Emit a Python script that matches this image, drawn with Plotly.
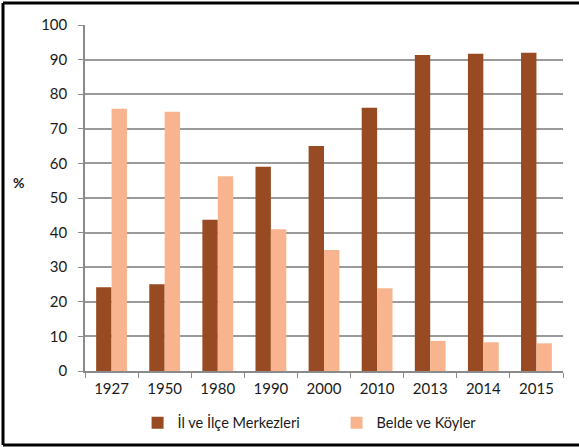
import plotly.graph_objects as go

# Share of population living in province/district centres vs. towns and villages (%)
years = ["1927", "1950", "1980", "1990", "2000", "2010", "2013", "2014", "2015"]
il_ilce = [24.2, 25.1, 43.7, 59.0, 65.0, 76.1, 91.3, 91.7, 92.0]
belde_koy = [75.8, 74.9, 56.3, 41.0, 35.0, 23.9, 8.7, 8.3, 8.0]

series_names = ["İl ve İlçe Merkezleri", "Belde ve Köyler"]
series_colors = ["#984A22", "#F8B48E"]
y_ticks = list(range(0, 101, 10))

FONT = "Lato, 'Open Sans', sans-serif"
TXT = "#1a1a1a"
AXIS = "#8a8a8a"

fig = go.Figure()
for name, vals, col in zip(series_names, [il_ilce, belde_koy], series_colors):
    fig.add_trace(go.Bar(
        x=years, y=vals, name=name,
        marker=dict(color=col, line=dict(width=0)),
    ))

fig.update_layout(
    width=579, height=447,
    margin=dict(l=85, r=16, t=25, b=76, autoexpand=False),
    paper_bgcolor="white", plot_bgcolor="white",
    barmode="group", bargap=0.42, bargroupgap=0,
    font=dict(family=FONT, size=15, color=TXT),
    showlegend=True,
    legend=dict(
        orientation="h", x=0.11, xanchor="left", y=-0.15, yanchor="middle",
        font=dict(family=FONT, size=14.5, color=TXT),
        entrywidth=154, itemclick=False, itemdoubleclick=False,
        bgcolor="rgba(0,0,0,0)",
    ),
    xaxis=dict(
        type="category", showgrid=False, automargin=False,
        ticks="outside", tickson="boundaries", ticklen=5,
        tickcolor=AXIS, tickwidth=1, ticklabelstandoff=3,
        showline=True, linecolor=AXIS, linewidth=1.5,
        tickfont=dict(size=15),
    ),
    yaxis=dict(
        range=[0, 100], tickvals=y_ticks, automargin=False,
        showgrid=True, gridcolor="#9a9a9a", gridwidth=1.5,
        ticks="outside", ticklen=5, tickcolor=AXIS, tickwidth=1,
        ticklabelstandoff=8,
        showline=True, linecolor=AXIS, linewidth=1.5,
        zeroline=False, tickfont=dict(size=15),
    ),
    annotations=[dict(
        text="<b>%</b>", xref="paper", yref="paper",
        x=-0.14, y=0.546, xanchor="center", yanchor="middle",
        showarrow=False, font=dict(size=14, family=FONT, color=TXT),
    )],
)

# Outer chart frame (left, top and bottom edges)
frame = dict(color="black", width=3)
x0 = -82 / 478
y_top = (346 + 22) / 346
y_bot = -74 / 346
fig.add_shape(type="line", xref="paper", yref="paper", x0=x0, x1=x0, y0=y_bot, y1=y_top, line=frame)
fig.add_shape(type="line", xref="paper", yref="paper", x0=x0, x1=1.1, y0=y_top, y1=y_top, line=frame)
fig.add_shape(type="line", xref="paper", yref="paper", x0=x0, x1=1.1, y0=y_bot, y1=y_bot, line=frame)

fig.write_html("out.html")
